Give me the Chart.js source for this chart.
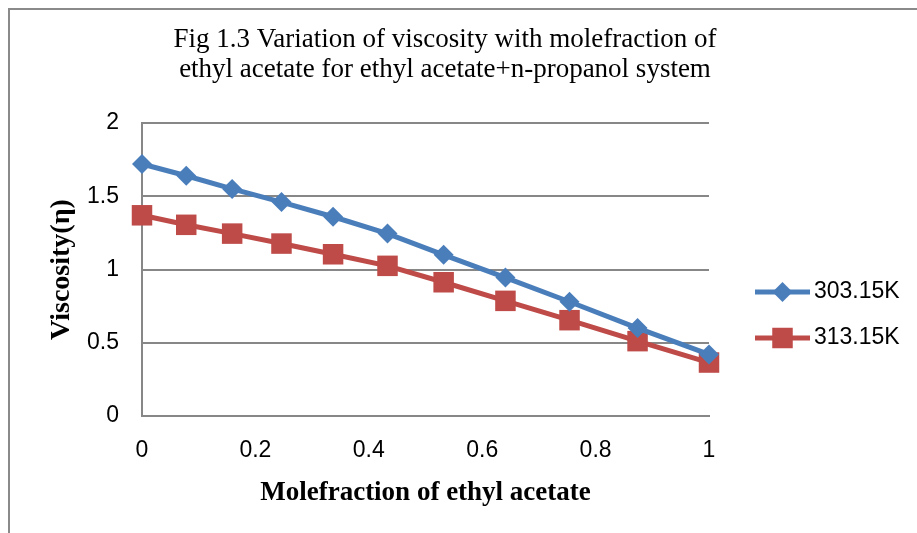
<!DOCTYPE html>
<html>
<head>
<meta charset="utf-8">
<script src="https://cdn.jsdelivr.net/npm/chart.js@4.4.1/dist/chart.umd.min.js"></script>
<style>
  body { margin: 0; background: #fff; }
  #viscChart { display: block; }
</style>
</head>
<body>
<canvas id="viscChart" width="917" height="533"></canvas>
<script>
    // data
    const moleFraction = [0, 0.078, 0.159, 0.246, 0.337, 0.433, 0.532, 0.641, 0.754, 0.874, 1];
    const visc30315 = [1.72, 1.64, 1.55, 1.46, 1.36, 1.245, 1.10, 0.945, 0.78, 0.60, 0.42];
    const visc31315 = [1.37, 1.305, 1.245, 1.177, 1.104, 1.025, 0.913, 0.786, 0.654, 0.511, 0.365];
    const seriesLabels = ['303.15K', '313.15K'];
    const titleLines = ['Fig 1.3 Variation of viscosity with molefraction of', 'ethyl acetate for ethyl acetate+n-propanol system'];

    const blue = '#4A7EBB';
    const red = '#BE4B48';
    const gridGray = '#878787';
    const sansFont = '"Liberation Sans", Arial, sans-serif';
    const serifFont = '"Liberation Serif", "Times New Roman", serif';

    const toPoints = (xs, ys) => xs.map((x, i) => ({ x: x, y: ys[i] }));
    const tickText = value => String(Number(value.toFixed(2)));

    // frame, title and the line+marker legend on the right
    const decorPlugin = {
        id: 'decor',
        beforeDraw(chart) {
            const ctx = chart.ctx;
            ctx.save();
            ctx.strokeStyle = '#8a8a8a';
            ctx.lineWidth = 2;
            ctx.beginPath();
            ctx.moveTo(9, 540);
            ctx.lineTo(9, 9);
            ctx.lineTo(930, 9);
            ctx.stroke();
            ctx.restore();
        },
        afterDraw(chart) {
            const ctx = chart.ctx;
            ctx.save();
            ctx.fillStyle = '#000';
            ctx.font = '27px ' + serifFont;
            ctx.textAlign = 'center';
            ctx.textBaseline = 'middle';
            ctx.fillText(titleLines[0], 445, 40);
            ctx.fillText(titleLines[1], 445, 70);

            const rows = [292, 338];
            chart.data.datasets.forEach((ds, i) => {
                const y = rows[i];
                ctx.strokeStyle = ds.borderColor;
                ctx.lineWidth = 5;
                ctx.beginPath();
                ctx.moveTo(755, y);
                ctx.lineTo(810, y);
                ctx.stroke();
                ctx.fillStyle = ds.pointBackgroundColor;
                Chart.helpers.drawPoint(ctx, {
                    pointStyle: ds.pointStyle,
                    radius: ds.pointRadius,
                    borderWidth: 0,
                    rotation: 0
                }, 782.5, y);
                ctx.fillStyle = '#000';
                ctx.font = '23px ' + sansFont;
                ctx.textAlign = 'left';
                ctx.fillText(ds.label, 814, y);
            });
            ctx.restore();
        }
    };

    const chart = new Chart(document.getElementById('viscChart').getContext('2d'), {
        type: 'line',
        data: {
            datasets: [
                {
                    label: seriesLabels[0],
                    data: toPoints(moleFraction, visc30315),
                    borderColor: blue,
                    borderWidth: 5,
                    pointStyle: 'rectRot',
                    pointRadius: 10,
                    pointBackgroundColor: blue,
                    pointBorderWidth: 0,
                    tension: 0,
                    clip: false
                },
                {
                    label: seriesLabels[1],
                    data: toPoints(moleFraction, visc31315),
                    borderColor: red,
                    borderWidth: 5,
                    pointStyle: 'rect',
                    pointRadius: 14.5,
                    pointBackgroundColor: red,
                    pointBorderWidth: 0,
                    tension: 0,
                    clip: false
                }
            ]
        },
        options: {
            responsive: false,
            animation: false,
            layout: {
                padding: { left: 10, top: 123, right: 208, bottom: 24 }
            },
            plugins: {
                legend: { display: false },
                title: { display: false },
                tooltip: { enabled: false }
            },
            scales: {
                x: {
                    type: 'linear',
                    min: 0,
                    max: 1,
                    ticks: {
                        stepSize: 0.2,
                        padding: 21,
                        color: '#000',
                        font: { family: sansFont, size: 23 },
                        callback: tickText
                    },
                    grid: { display: false, drawTicks: false },
                    border: { display: true, color: gridGray, width: 2 },
                    title: {
                        display: true,
                        text: 'Molefraction of ethyl acetate',
                        color: '#000',
                        padding: { top: 0, bottom: 0 },
                        font: { family: serifFont, size: 27, weight: 'bold' }
                    },
                    afterFit(scale) { scale.height = 533 - 416 - 24; }
                },
                y: {
                    min: 0,
                    max: 2,
                    ticks: {
                        stepSize: 0.5,
                        padding: 23,
                        color: '#000',
                        font: { family: sansFont, size: 23 },
                        callback: tickText
                    },
                    grid: { color: gridGray, lineWidth: 2, drawTicks: false },
                    border: { display: true, color: gridGray, width: 2 },
                    title: {
                        display: true,
                        text: 'Viscosity(η)',
                        color: '#000',
                        padding: { top: 35, bottom: 0 },
                        font: { family: serifFont, size: 28, weight: 'bold' }
                    },
                    afterFit(scale) { scale.width = 142 - 10; }
                }
            }
        },
        plugins: [decorPlugin]
    });
</script>
</body>
</html>
